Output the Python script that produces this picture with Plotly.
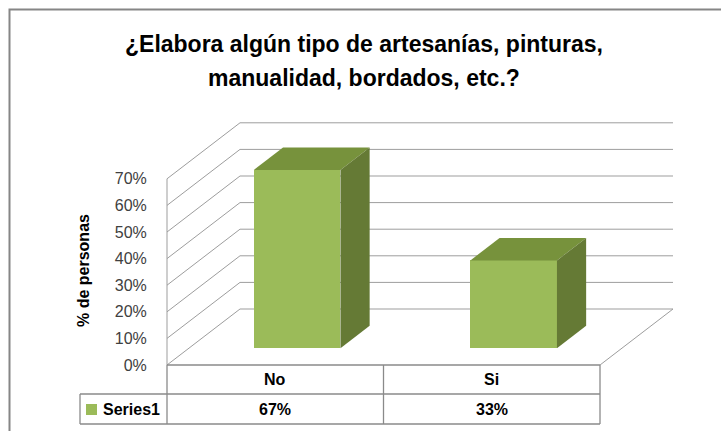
import plotly.graph_objects as go

# ---- data ----
CATEGORIES = ["No", "Si"]
VALUES = [67, 33]            # % de personas
SERIES_NAME = "Series1"
TICKS = [0, 10, 20, 30, 40, 50, 60, 70]
TICK_LABELS = [f"{t}%" for t in TICKS]
TITLE_LINES = ["¿Elabora algún tipo de artesanías, pinturas,", "manualidad, bordados, etc.?"]
Y_TITLE = "% de personas"

# ---- layout geometry (pixels) ----
W, H = 721, 431
X0PX = 167          # front-left floor corner
CAT_PX = 216.5      # width of one category on the front plane
Y0PX = 365          # front floor line
PCT_PX = 2.66       # pixels per percent
DEPTH_X = 73 / CAT_PX   # depth offset in category units
DEPTH_Y = 56 / PCT_PX   # depth offset in percent units
BAR_FRONT, BAR_BACK = 0.3, 0.7
BAR_W = 0.4
TABLE_LEFT_PX = 80
ROW1_PX, ROW2_PX = 394, 424

FRONT = "#9BBB59"
TOP = "#77923C"
SIDE = "#657A35"
GRID = "#9d9d9d"
TABLE = "#8a8a8a"
FONT = "Liberation Sans"


def px_x(p):
    return -0.5 + (p - X0PX) / CAT_PX


def px_y(p):
    return (Y0PX - p) / PCT_PX


x_left = px_x(0)
x_right = px_x(W)
n = len(CATEGORIES)
x_end = n - 0.5

fig = go.Figure()

# front faces of the bars
fig.add_trace(go.Bar(
    x=[i + BAR_FRONT * DEPTH_X for i in range(n)],
    y=VALUES,
    base=BAR_FRONT * DEPTH_Y,
    width=BAR_W,
    marker=dict(color=FRONT, line=dict(width=0)),
    hoverinfo="skip",
    showlegend=False,
))

ddx = (BAR_BACK - BAR_FRONT) * DEPTH_X
ddy = (BAR_BACK - BAR_FRONT) * DEPTH_Y
for i, v in enumerate(VALUES):
    xl = i - BAR_W / 2 + BAR_FRONT * DEPTH_X
    xr = i + BAR_W / 2 + BAR_FRONT * DEPTH_X
    yb = BAR_FRONT * DEPTH_Y
    yt = yb + v
    # top face
    fig.add_trace(go.Scatter(
        x=[xl, xr, xr + ddx, xl + ddx, xl],
        y=[yt, yt, yt + ddy, yt + ddy, yt],
        mode="lines", fill="toself", fillcolor=TOP,
        line=dict(width=0, color=TOP), hoverinfo="skip", showlegend=False,
    ))
    # side face
    fig.add_trace(go.Scatter(
        x=[xr, xr, xr + ddx, xr + ddx, xr],
        y=[yb, yt, yt + ddy, yb + ddy, yb],
        mode="lines", fill="toself", fillcolor=SIDE,
        line=dict(width=0, color=SIDE), hoverinfo="skip", showlegend=False,
    ))

# legend key inside the data table
fig.add_trace(go.Scatter(
    x=[px_x(91.5)], y=[px_y(409.5)], mode="markers",
    marker=dict(symbol="square", size=11, color=FRONT, line=dict(width=0)),
    hoverinfo="skip", showlegend=False,
))

shapes = []
# chart border
shapes.append(dict(type="rect", xref="paper", yref="paper",
                   x0=9.5 / W, x1=1.2, y0=-0.2, y1=1 - 9.5 / H,
                   line=dict(color="#868686", width=2), layer="below"))
# walls and gridlines
for t in TICKS:
    shapes.append(dict(type="line", x0=-0.5, y0=t, x1=-0.5 + DEPTH_X, y1=t + DEPTH_Y,
                       line=dict(color=GRID, width=1), layer="below"))
    shapes.append(dict(type="line", x0=-0.5 + DEPTH_X, y0=t + DEPTH_Y,
                       x1=x_end + DEPTH_X, y1=t + DEPTH_Y,
                       line=dict(color=GRID, width=1), layer="below"))
# floor right edge
shapes.append(dict(type="line", x0=x_end, y0=0, x1=x_end + DEPTH_X, y1=DEPTH_Y,
                   line=dict(color=GRID, width=1), layer="below"))
# front axis edge
shapes.append(dict(type="line", x0=-0.5, y0=TICKS[-1], x1=-0.5, y1=0,
                   line=dict(color=GRID, width=1), layer="below"))

# data table
r1 = px_y(ROW1_PX)
r2 = px_y(ROW2_PX)
tl = px_x(TABLE_LEFT_PX)
tline = dict(color=TABLE, width=1.3)
shapes.append(dict(type="line", x0=-0.5, y0=0, x1=x_end, y1=0, line=tline))
shapes.append(dict(type="line", x0=tl, y0=r1, x1=x_end, y1=r1, line=tline))
shapes.append(dict(type="line", x0=tl, y0=r2, x1=x_end, y1=r2, line=tline))
shapes.append(dict(type="line", x0=tl, y0=r1, x1=tl, y1=r2, line=tline))
for k in range(n + 1):
    xv = k - 0.5
    shapes.append(dict(type="line", x0=xv, y0=0, x1=xv, y1=r2, line=tline))

annotations = []
# title
for j, (line_txt, ypx) in enumerate(zip(TITLE_LINES, [44, 78])):
    annotations.append(dict(text=f"<b>{line_txt}</b>", xref="paper", yref="paper",
                            x=364 / W, y=1 - ypx / H, showarrow=False,
                            xanchor="center", yanchor="middle",
                            font=dict(family=FONT, size=23, color="#000000")))
# y axis title
annotations.append(dict(text=f"<b>{Y_TITLE}</b>", xref="paper", yref="paper",
                        x=83 / W, y=1 - 271 / H, textangle=-90, showarrow=False,
                        xanchor="center", yanchor="middle",
                        font=dict(family=FONT, size=16, color="#000000")))
# table text
for i, (c, v) in enumerate(zip(CATEGORIES, VALUES)):
    annotations.append(dict(text=f"<b>{c}</b>", x=i, y=(0 + r1) / 2, showarrow=False,
                            xanchor="center", yanchor="middle",
                            font=dict(family=FONT, size=16, color="#000000")))
    annotations.append(dict(text=f"<b>{v}%</b>", x=i, y=(r1 + r2) / 2, showarrow=False,
                            xanchor="center", yanchor="middle",
                            font=dict(family=FONT, size=16, color="#000000")))
annotations.append(dict(text=f"<b>{SERIES_NAME}</b>", x=px_x(101), y=(r1 + r2) / 2,
                        showarrow=False, xanchor="left", yanchor="middle",
                        font=dict(family=FONT, size=16, color="#000000")))

fig.update_layout(
    width=W, height=H, autosize=False,
    margin=dict(l=0, r=0, t=0, b=0),
    paper_bgcolor="white", plot_bgcolor="rgba(0,0,0,0)",
    showlegend=False,
    xaxis=dict(range=[x_left, x_right], visible=False, fixedrange=True),
    yaxis=dict(range=[px_y(H), px_y(0)], anchor="free", position=X0PX / W,
               tickvals=TICKS, ticktext=TICK_LABELS, ticks="outside", ticklen=17,
               tickcolor="rgba(0,0,0,0)", showgrid=False, zeroline=False,
               showline=False, fixedrange=True,
               tickfont=dict(family=FONT, size=16, color="#404040")),
    shapes=shapes,
    annotations=annotations,
    bargap=0,
)

fig.write_html(
    "out.html",
    config={"displayModeBar": False},
    post_script="document.body.style.margin='0';document.body.style.padding='0';"
                "document.documentElement.style.overflow='hidden';",
)
